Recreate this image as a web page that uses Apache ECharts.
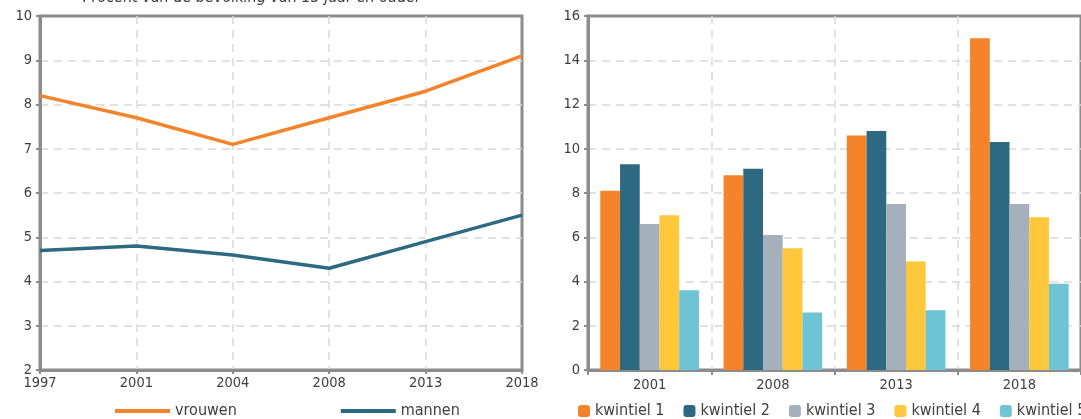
<!DOCTYPE html>
<html><head><meta charset="utf-8">
<script src="https://cdn.jsdelivr.net/npm/echarts@6/dist/echarts.min.js"></script>
<style>html,body{margin:0;padding:0;background:#fff}#c{width:1081px;height:419px}</style>
</head><body><div id="c"></div>
<script>
const lineYears = ['1997','2001','2004','2008','2013','2018'];
const vrouwen = [8.2, 7.7, 7.1, 7.7, 8.3, 9.1];
const mannen = [4.7, 4.8, 4.6, 4.3, 4.9, 5.5];
const barYears = ['2001','2008','2013','2018'];
const kwintiel1 = [8.1, 8.8, 10.6, 15.0];
const kwintiel2 = [9.3, 9.1, 10.8, 10.3];
const kwintiel3 = [6.6, 6.1, 7.5, 7.5];
const kwintiel4 = [7.0, 5.5, 4.9, 6.9];
const kwintiel5 = [3.6, 2.6, 2.7, 3.9];
const subtitle = 'Procent van de bevolking van 15 jaar en ouder';

const FONT = '"DejaVu Sans Condensed", "DejaVu Sans"';
const TXT = '#404040';
const AX = '#8c8c8c';
const GRIDC = '#d9d9d9';
const colors = {orange:'#F4832A', teal:'#2D6980', gray:'#A6B0BD', yellow:'#FFC73C', cyan:'#6EC4D4'};
const AXFS = 14.5, LEGFS = 16;

function axisCommon(extra){
  return Object.assign({
    axisLine:{show:true, lineStyle:{color:AX, width:3}},
    axisTick:{show:true, length:4, lineStyle:{color:AX, width:2}},
    axisLabel:{color:TXT, fontFamily:FONT, fontSize:AXFS},
    splitLine:{show:true, showMinLine:false, showMaxLine:false, lineStyle:{color:GRIDC, type:[8,6], width:1.5}}
  }, extra);
}

const chart = echarts.init(document.getElementById('c'), null, {renderer:'canvas'});
chart.setOption({
  animation:false,
  textStyle:{fontFamily:FONT},
  graphic:[{type:'text', left:83, top:-10, z:10, style:{text:subtitle, font:'italic 16px "DejaVu Sans Condensed", "DejaVu Sans"', fill:TXT}}],
  grid:[
    {left:40, top:16, width:482, bottom:49, show:true, borderColor:AX, borderWidth:3},
    {left:588, top:16, width:498, bottom:49, show:true, borderColor:AX, borderWidth:3}
  ],
  legend:[
    {left:110, top:398, itemWidth:55, itemHeight:4, itemGap:104, icon:'rect',
     textStyle:{color:TXT, fontFamily:FONT, fontSize:LEGFS}, data:['vrouwen','mannen']},
    {left:573, top:398, width:600, itemWidth:12, itemHeight:12, itemGap:19, icon:'roundRect',
     textStyle:{color:TXT, fontFamily:FONT, fontSize:LEGFS},
     data:['kwintiel 1','kwintiel 2','kwintiel 3','kwintiel 4','kwintiel 5']}
  ],
  xAxis:[
    axisCommon({type:'category', gridIndex:0, data:lineYears, boundaryGap:false,
      axisLabel:{color:TXT, fontFamily:FONT, fontSize:AXFS, margin:6}}),
    axisCommon({type:'category', gridIndex:1, data:barYears, boundaryGap:true,
      axisTick:{show:true, length:5, lineStyle:{color:AX, width:2}},
      axisLabel:{color:TXT, fontFamily:FONT, fontSize:AXFS, margin:8}})
  ],
  yAxis:[
    axisCommon({type:'value', gridIndex:0, min:2, max:10, interval:1,
      axisLabel:{color:TXT, fontFamily:FONT, fontSize:AXFS, margin:8}}),
    axisCommon({type:'value', gridIndex:1, min:0, max:16, interval:2,
      axisLabel:{color:TXT, fontFamily:FONT, fontSize:AXFS, margin:8}})
  ],
  series:[
    {name:'vrouwen', type:'line', xAxisIndex:0, yAxisIndex:0, data:vrouwen, showSymbol:false, symbol:'none',
     lineStyle:{color:colors.orange, width:3.5}, itemStyle:{color:colors.orange}},
    {name:'mannen', type:'line', xAxisIndex:0, yAxisIndex:0, data:mannen, showSymbol:false, symbol:'none',
     lineStyle:{color:colors.teal, width:3.5}, itemStyle:{color:colors.teal}},
    {name:'kwintiel 1', type:'bar', xAxisIndex:1, yAxisIndex:1, data:kwintiel1, barGap:'0%', barCategoryGap:'20%', itemStyle:{color:colors.orange}},
    {name:'kwintiel 2', type:'bar', xAxisIndex:1, yAxisIndex:1, data:kwintiel2, barGap:'0%', barCategoryGap:'20%', itemStyle:{color:colors.teal}},
    {name:'kwintiel 3', type:'bar', xAxisIndex:1, yAxisIndex:1, data:kwintiel3, barGap:'0%', barCategoryGap:'20%', itemStyle:{color:colors.gray}},
    {name:'kwintiel 4', type:'bar', xAxisIndex:1, yAxisIndex:1, data:kwintiel4, barGap:'0%', barCategoryGap:'20%', itemStyle:{color:colors.yellow}},
    {name:'kwintiel 5', type:'bar', xAxisIndex:1, yAxisIndex:1, data:kwintiel5, barGap:'0%', barCategoryGap:'20%', itemStyle:{color:colors.cyan}}
  ]
});
</script>
</body></html>
